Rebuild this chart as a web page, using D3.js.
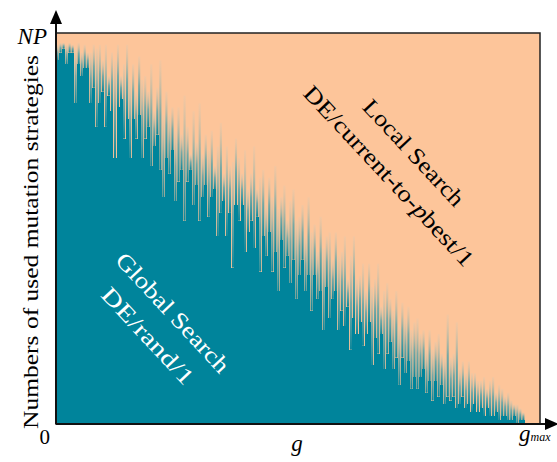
<!DOCTYPE html>
<html>
<head>
<meta charset="utf-8">
<script src="https://cdn.jsdelivr.net/npm/d3@7"></script>
<style>
  body { margin: 0; background: #fff; }
  svg { display: block; }
  text { font-family: "Liberation Serif", "DejaVu Serif", serif; }
</style>
</head>
<body>
<div id="chart"></div>
<script>
// share of DE/rand/1 in the population (% of NP), lowest level in each generation block
const globalBase = [
  93, 95, 96, 92, 95, 95, 82, 92, 89, 91,
  91, 82, 86, 76, 82, 85, 76, 84, 80, 68,
  81, 83, 73, 78, 68, 78, 73, 79, 68, 73,
  76, 66, 71, 74, 65, 58, 68, 64, 70, 57,
  62, 65, 52, 62, 65, 56, 61, 52, 58, 61,
  53, 58, 60, 48, 54, 57, 48, 54, 40, 56,
  52, 56, 44, 49, 52, 45, 53, 39, 48, 43,
  49, 39, 44, 34, 47, 40, 43, 36, 42, 32,
  38, 42, 34, 38, 29, 38, 32, 34, 24, 35,
  27, 32, 34, 24, 29, 25, 30, 19, 27, 23,
  26, 20, 23, 26, 15, 22, 18, 23, 14, 18,
  21, 14, 17, 10, 17, 13, 16, 9, 12, 9,
  12, 14, 8, 11, 6, 11, 7, 10, 5, 7,
  6, 7, 4, 5, 7, 4, 5, 3, 5, 3,
  4, 2, 4, 2, 2, 3, 1, 2, 2, 1,
  1, 2, 0, 1, 1, 0, 0, 0, 0, 0
];
// highest share reached inside each block (the pale spikes)
const globalPeak = [
  97, 97.5, 97.5, 97, 97.5, 97, 96, 97.5, 95, 97,
  95, 95, 97, 96, 97, 93, 97, 89, 95, 93,
  97, 89, 92, 97, 88, 92, 85, 94, 88, 89,
  85, 92, 80, 86, 93, 79, 85, 79, 81, 75,
  81, 74, 84, 76, 69, 80, 72, 82, 69, 74,
  70, 75, 66, 71, 77, 64, 71, 66, 67, 73,
  68, 64, 70, 60, 64, 71, 60, 63, 65, 56,
  63, 58, 66, 55, 58, 61, 52, 57, 60, 52,
  53, 56, 48, 58, 49, 51, 44, 53, 45, 48,
  49, 42, 49, 43, 44, 48, 37, 43, 48, 37,
  38, 41, 34, 41, 35, 37, 41, 30, 34, 36,
  32, 29, 34, 25, 31, 27, 30, 24, 26, 27,
  23, 24, 19, 24, 19, 21, 23, 18, 17, 28,
  17, 18, 26, 14, 16, 13, 16, 13, 13, 11,
  11, 12, 9, 11, 12, 8, 10, 9, 7, 8,
  6, 5, 5, 4, 3, 0, 0, 0, 0, 0
];
const localLabel = ["Local Search", "DE/current-to-pbest/1"];
const globalLabel = ["Global Search", "DE/rand/1"];

const width = 557, height = 462;
const plot = { left: 56, right: 540, top: 33, bottom: 424 };
const teal = "#00849b", peach = "#fdc59a";

const svg = d3.select("#chart").append("svg")
  .attr("width", width)
  .attr("height", height);

const x = d3.scaleLinear().domain([0, globalBase.length]).range([plot.left, plot.right]);
const y = d3.scaleLinear().domain([0, 100]).range([plot.bottom, plot.top]);

const defs = svg.append("defs");
const grad = defs.append("linearGradient")
  .attr("id", "spike")
  .attr("x1", 0).attr("y1", 1).attr("x2", 0).attr("y2", 0);
grad.append("stop").attr("offset", 0).attr("stop-color", teal).attr("stop-opacity", 0.95);
grad.append("stop").attr("offset", 0.5).attr("stop-color", "#4a9fa8").attr("stop-opacity", 0.75);
grad.append("stop").attr("offset", 1).attr("stop-color", "#dacbb3").attr("stop-opacity", 0.25);

// local search share fills the whole frame
svg.append("rect")
  .attr("x", plot.left).attr("y", plot.top)
  .attr("width", plot.right - plot.left).attr("height", plot.bottom - plot.top)
  .attr("fill", peach);

const colW = x(1) - x(0);

svg.append("g")
  .selectAll("rect")
  .data(globalBase)
  .join("rect")
  .attr("x", (d, i) => x(i))
  .attr("width", colW)
  .attr("y", d => y(d))
  .attr("height", d => y(0) - y(d))
  .attr("fill", teal)
  .attr("shape-rendering", "crispEdges");

svg.append("g")
  .selectAll("rect")
  .data(globalPeak)
  .join("rect")
  .attr("x", (d, i) => x(i) + colW * 0.15)
  .attr("width", colW * 0.7)
  .attr("y", d => y(d))
  .attr("height", (d, i) => Math.max(0, y(globalBase[i]) - y(d)))
  .attr("fill", "url(#spike)");

// frame
svg.append("rect")
  .attr("x", plot.left).attr("y", plot.top)
  .attr("width", plot.right - plot.left).attr("height", plot.bottom - plot.top)
  .attr("fill", "none")
  .attr("stroke", "#222")
  .attr("stroke-width", 1.5);

// axes with arrow heads
svg.append("line")
  .attr("x1", plot.left).attr("y1", plot.bottom)
  .attr("x2", plot.left).attr("y2", 22)
  .attr("stroke", "#111").attr("stroke-width", 2);
svg.append("path")
  .attr("d", `M${plot.left},10 L${plot.left - 6},24 L${plot.left + 6},24 Z`)
  .attr("fill", "#000");
svg.append("line")
  .attr("x1", plot.left).attr("y1", plot.bottom)
  .attr("x2", 548).attr("y2", plot.bottom)
  .attr("stroke", "#111").attr("stroke-width", 2);
svg.append("path")
  .attr("d", `M559,${plot.bottom} L545,${plot.bottom - 6} L545,${plot.bottom + 6} Z`)
  .attr("fill", "#000");

// axis texts
svg.append("text")
  .attr("x", 47).attr("y", 44)
  .attr("text-anchor", "end")
  .attr("font-style", "italic")
  .attr("font-size", 23)
  .text("NP");
svg.append("text")
  .attr("x", 50).attr("y", 444)
  .attr("text-anchor", "end")
  .attr("font-size", 21)
  .text("0");
svg.append("text")
  .attr("x", 297).attr("y", 451)
  .attr("text-anchor", "middle")
  .attr("font-style", "italic")
  .attr("font-size", 23)
  .text("g");
const gmax = svg.append("text")
  .attr("x", 519).attr("y", 441)
  .attr("font-style", "italic")
  .attr("font-size", 23);
gmax.append("tspan").text("g");
gmax.append("tspan").attr("font-size", 12).text("max");

svg.append("text")
  .attr("transform", "translate(38,242) rotate(-90)")
  .attr("text-anchor", "middle")
  .attr("font-size", 21)
  .attr("textLength", 374)
  .attr("lengthAdjust", "spacingAndGlyphs")
  .text("Numbers of used mutation strategies");

// rotated region labels
function regionLabel(lines, cx, cy, lens, color) {
  const g = svg.append("g").attr("transform", `translate(${cx},${cy}) rotate(47)`);
  lines.forEach((t, i) => {
    const txt = g.append("text")
      .attr("x", 0).attr("y", i * 34)
      .attr("text-anchor", "middle")
      .attr("font-size", 23)
      .attr("fill", color)
      .attr("textLength", lens[i])
      .attr("lengthAdjust", "spacingAndGlyphs");
    if (t.includes("pbest")) {
      const k = t.indexOf("pbest");
      txt.append("tspan").text(t.slice(0, k));
      txt.append("tspan").attr("font-style", "italic").text("p");
      txt.append("tspan").text(t.slice(k + 1));
    } else {
      txt.text(t);
    }
  });
}
regionLabel(localLabel, 408, 158, [137, 238], "#000");
regionLabel(globalLabel, 167, 318, [155, 124], "#fff");
</script>
</body>
</html>
